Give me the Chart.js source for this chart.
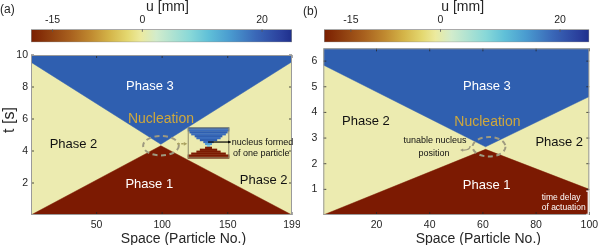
<!DOCTYPE html>
<html>
<head>
<meta charset="utf-8">
<title>u [mm] phase maps</title>
<script src="https://cdn.jsdelivr.net/npm/chart.js@4.4.1/dist/chart.umd.min.js"></script>
<style>
  body { margin: 0; background: #fff; }
  #fig { position: relative; width: 598px; height: 245px; overflow: hidden; }
  #fig canvas { position: absolute; top: 0; }
</style>
</head>
<body>
<div id="fig">
  <canvas id="mapA" width="300" height="245" style="left:0"></canvas>
  <canvas id="mapB" width="298" height="245" style="left:300px"></canvas>
  <canvas id="barA" width="300" height="45" style="left:0"></canvas>
  <canvas id="barB" width="298" height="45" style="left:300px"></canvas>
</div>
<script>
const FONT = '"Liberation Sans", Arial, Helvetica, sans-serif';
const RED = '#7c1a02';
const YELLOW = '#ecebb0';
const BLUE = '#2f5fb0';
const GOLD = '#cfa83c';
const INK = '#262626';
const DASH = '#9e9a80';

// panel (a): 199 particles, 10 s
const spaceA = [0, 99, 199];
const phase3EdgeA = [9.55, 4.42, 9.58];   // lower edge of phase 3 (blue)
const phase1EdgeA = [0, 4.33, 0];         // upper edge of phase 1 (red)
const xTicksA = [50, 100, 150, 199];
const yTicksA = [2, 4, 6, 8, 10];

// panel (b): 100 particles, 6.5 s
const spaceB = [0, 61, 100];
const phase3EdgeB = [5.85, 2.66, 4.62];
const phase1EdgeB = [0, 2.56, 1.0];
const xTicksB = [20, 40, 60, 80, 100];
const yTicksB = [1, 2, 3, 4, 5, 6];

// colorbars
const cbTicks = [-15, 0, 20];
const cbRangeA = [-18.6, 25.0];
const cbRangeB = [-19.5, 24.9];

// zoomed inset of (a): half widths in cells (of 24) for each of 16 rows
const insetBlue = [12, 12, 11, 10, 8, 7, 5, 3, 0, 0, 0, 0, 0, 0, 0, 0];
const insetCyan = [0, 0, 0, 0, 0, 0, 0, 0, 2, 1, 0, 0, 0, 0, 0, 0];
const insetRed  = [0, 0, 0, 0, 0, 0, 0, 0, 0, 0, 2, 5, 7, 10, 12, 12];

const cbStops = [
  [0, '#7a1e00'], [0.076, '#904010'], [0.15, '#a8601e'], [0.23, '#c08a30'],
  [0.30, '#d4b448'], [0.37, '#e4d870'], [0.42, '#ecea9e'], [0.48, '#d2eccc'],
  [0.61, '#88d8d8'], [0.68, '#60c0d8'], [0.76, '#4a9cd0'], [0.86, '#3a68b8'],
  [0.96, '#2a3f9c'], [1, '#1e2f8c']
];

function edge(xs, ys) {
  return xs.map((x, i) => ({ x: x, y: ys[i] }));
}

function text(ctx, s, x, y, size, color, align) {
  ctx.save();
  ctx.font = size + 'px ' + FONT;
  ctx.fillStyle = color;
  ctx.textAlign = align || 'center';
  ctx.textBaseline = 'middle';
  ctx.fillText(s, x, y);
  ctx.restore();
}

function arrowHead(ctx, x, y, ang, len, color) {
  ctx.save();
  ctx.fillStyle = color;
  ctx.beginPath();
  ctx.moveTo(x, y);
  ctx.lineTo(x - len * Math.cos(ang - 0.5), y - len * Math.sin(ang - 0.5));
  ctx.lineTo(x - len * Math.cos(ang + 0.5), y - len * Math.sin(ang + 0.5));
  ctx.closePath();
  ctx.fill();
  ctx.restore();
}

function dashedEllipse(chart, cx, cy, rx, ry) {
  const sx = chart.scales.x, sy = chart.scales.y, ctx = chart.ctx;
  const px = sx.getPixelForValue(cx), py = sy.getPixelForValue(cy);
  const prx = Math.abs(sx.getPixelForValue(cx + rx) - px);
  const pry = Math.abs(sy.getPixelForValue(cy + ry) - py);
  ctx.save();
  ctx.strokeStyle = DASH;
  ctx.lineWidth = 2;
  ctx.setLineDash([5, 3.5]);
  ctx.beginPath();
  ctx.ellipse(px, py, prx, pry, 0, 0, Math.PI * 2);
  ctx.stroke();
  ctx.restore();
}

function drawInset(ctx, p0, p1) {
  const x0 = p0[0], y0 = p0[1], w = p1[0] - p0[0], h = p1[1] - p0[1];
  const cw = w / 24, rh = h / insetBlue.length, xc = x0 + w / 2;
  ctx.save();
  ctx.fillStyle = YELLOW;
  ctx.fillRect(x0, y0, w, h);
  insetBlue.forEach((n, r) => {
    if (!n) return;
    ctx.fillStyle = r % 2 ? '#3a6cbc' : BLUE;
    ctx.fillRect(xc - n * cw, y0 + r * rh, 2 * n * cw, rh + 0.3);
  });
  insetCyan.forEach((n, r) => {
    if (!n) return;
    ctx.fillStyle = r === 8 ? '#4f9ad4' : '#86d2e2';
    ctx.fillRect(xc - n * cw, y0 + r * rh, 2 * n * cw, rh + 0.3);
  });
  insetRed.forEach((n, r) => {
    if (!n) return;
    ctx.fillStyle = RED;
    ctx.fillRect(xc - n * cw, y0 + r * rh, 2 * n * cw, rh + 0.3);
  });
  ctx.strokeStyle = '#8d8a6a';
  ctx.lineWidth = 1;
  ctx.strokeRect(x0 + 0.5, y0 + 0.5, w - 1, h - 1);
  ctx.restore();
}

function mapFrame(xTicks, yTicks, annotate) {
  return {
    id: 'mapFrame',
    beforeDatasetsDraw(chart) {
      const a = chart.chartArea, ctx = chart.ctx;
      ctx.save();
      ctx.fillStyle = YELLOW;
      ctx.fillRect(a.left, a.top, a.width, a.height);
      ctx.restore();
    },
    afterDraw(chart) {
      const a = chart.chartArea, ctx = chart.ctx;
      const sx = chart.scales.x, sy = chart.scales.y;
      ctx.save();
      ctx.strokeStyle = INK;
      ctx.lineWidth = 0.8;
      ctx.beginPath();
      xTicks.forEach(v => {
        const p = sx.getPixelForValue(v);
        ctx.moveTo(p, a.top); ctx.lineTo(p, a.top + 3);
        ctx.moveTo(p, a.bottom); ctx.lineTo(p, a.bottom - 3);
      });
      yTicks.forEach(v => {
        const p = sy.getPixelForValue(v);
        ctx.moveTo(a.left, p); ctx.lineTo(a.left + 3, p);
        ctx.moveTo(a.right, p); ctx.lineTo(a.right - 3, p);
      });
      ctx.stroke();
      ctx.strokeStyle = '#9a9a9a';
      ctx.lineWidth = 1;
      ctx.strokeRect(a.left + 0.5, a.top + 0.5, a.width - 1, a.height - 1);
      ctx.restore();
      annotate(chart, ctx, (vx, vy) => [sx.getPixelForValue(vx), sy.getPixelForValue(vy)]);
    }
  };
}

function phaseMap(id, xs, top, bottom, xMax, yMax, xTicks, yTicks, box, annotate) {
  const tickFont = { family: FONT, size: 10.5 };
  return new Chart(document.getElementById(id), {
    type: 'scatter',
    data: {
      datasets: [
        { label: 'Phase 3', data: edge(xs, top), showLine: true, fill: 'end',
          backgroundColor: BLUE, borderColor: BLUE, borderWidth: 0.5, pointRadius: 0 },
        { label: 'Phase 1', data: edge(xs, bottom), showLine: true, fill: 'start',
          backgroundColor: RED, borderColor: RED, borderWidth: 0.5, pointRadius: 0 }
      ]
    },
    options: {
      responsive: false,
      animation: false,
      events: [],
      layout: { padding: { left: 0, right: box.right, top: box.top, bottom: 0 } },
      plugins: { legend: { display: false }, tooltip: { enabled: false } },
      scales: {
        x: {
          type: 'linear', min: 0, max: xMax,
          afterBuildTicks: s => { s.ticks = xTicks.map(v => ({ value: v })); },
          afterFit: s => { s.height = 30; s.paddingLeft = 0; s.paddingRight = 0; },
          grid: { display: false, drawTicks: false },
          border: { display: false },
          ticks: { font: tickFont, color: INK, padding: 4, maxRotation: 0, autoSkip: false }
        },
        y: {
          type: 'linear', min: 0, max: yMax,
          afterBuildTicks: s => { s.ticks = yTicks.map(v => ({ value: v })); },
          afterFit: s => { s.width = box.left; s.paddingTop = 0; s.paddingBottom = 0; },
          grid: { display: false, drawTicks: false },
          border: { display: false },
          ticks: { font: tickFont, color: INK, padding: box.tickPad, autoSkip: false }
        }
      }
    },
    plugins: [mapFrame(xTicks, yTicks, annotate)]
  });
}

function annotateA(chart, ctx, at) {
  let p;
  p = at(90.7, 8.02); text(ctx, 'Phase 3', p[0], p[1], 13, '#fff');
  p = at(99.1, 6.0); text(ctx, 'Nucleation', p[0], p[1], 14, GOLD);
  p = at(32.4, 4.38); text(ctx, 'Phase 2', p[0], p[1], 13, '#111');
  p = at(90.2, 1.92); text(ctx, 'Phase 1', p[0], p[1], 13, '#fff');
  p = at(177.4, 2.19); text(ctx, 'Phase 2', p[0], p[1], 13, '#111');
  dashedEllipse(chart, 99.1, 4.33, 13.6, 0.61);

  // pointer from the nucleus to the zoomed inset
  const s = at(111.5, 4.45), e = at(119.2, 4.45);
  ctx.save();
  ctx.strokeStyle = '#aaa260';
  ctx.lineWidth = 1.4;
  ctx.setLineDash([2.5, 1.5]);
  ctx.beginPath(); ctx.moveTo(s[0], s[1]); ctx.lineTo(e[0] - 2, e[1]); ctx.stroke();
  ctx.restore();
  arrowHead(ctx, e[0], e[1], 0, 4, '#aaa260');

  drawInset(ctx, at(119.5, 5.48), at(151.2, 3.54));

  const l0 = at(135, 4.56), l1 = at(152.3, 4.56);
  ctx.save();
  ctx.strokeStyle = '#000';
  ctx.lineWidth = 1.2;
  ctx.beginPath(); ctx.moveTo(l0[0], l0[1]); ctx.lineTo(l1[0], l1[1]); ctx.stroke();
  ctx.restore();
  arrowHead(ctx, l1[0], l1[1], 0, 3, '#000');
  p = at(153, 4.54); text(ctx, 'nucleus formed', p[0], p[1], 9, '#111', 'left');
  p = at(154, 3.86); text(ctx, 'of one particle', p[0], p[1], 9, '#111', 'left');

  const a = chart.chartArea;
  text(ctx, 'Space (Particle No.)', (a.left + a.right) / 2 + 22, a.bottom + 24, 14, INK);
  ctx.save();
  ctx.translate(10, a.top + 65);
  ctx.rotate(-Math.PI / 2);
  text(ctx, 't [s]', 0, 0, 16, INK);
  ctx.restore();
  text(ctx, '(a)', 0, 10, 12, INK, 'left');
}

function annotateB(chart, ctx, at) {
  let p;
  p = at(61.5, 5.0); text(ctx, 'Phase 3', p[0], p[1], 13, '#fff');
  p = at(61.7, 3.64); text(ctx, 'Nucleation', p[0], p[1], 14, GOLD);
  p = at(16.0, 3.66); text(ctx, 'Phase 2', p[0], p[1], 13, '#111');
  p = at(88.7, 2.83); text(ctx, 'Phase 2', p[0], p[1], 13, '#111');
  p = at(61.4, 1.17); text(ctx, 'Phase 1', p[0], p[1], 13, '#fff');
  p = at(42.0, 2.9); text(ctx, 'tunable nucleus', p[0], p[1], 9, '#111');
  p = at(41.6, 2.41); text(ctx, 'position', p[0], p[1], 9, '#111');
  dashedEllipse(chart, 62.3, 2.66, 6.2, 0.38);

  // small hooked arrow pointing left
  const c = at(53.3, 2.53);
  ctx.save();
  ctx.strokeStyle = DASH;
  ctx.lineWidth = 1.3;
  ctx.beginPath();
  ctx.moveTo(c[0] + 5, c[1] - 4);
  ctx.quadraticCurveTo(c[0] + 5, c[1], c[0] - 1, c[1]);
  ctx.lineTo(c[0] - 3, c[1]);
  ctx.stroke();
  ctx.restore();
  arrowHead(ctx, c[0] - 5, c[1], Math.PI, 3.5, DASH);

  p = at(82.1, 0.67); text(ctx, 'time delay', p[0], p[1], 8.5, '#fff', 'left');
  p = at(82.1, 0.28); text(ctx, 'of actuation', p[0], p[1], 8.5, '#fff', 'left');
  const b0 = at(99.6, 0.03), b1 = at(99.6, 0.93);
  ctx.save();
  ctx.strokeStyle = '#fff';
  ctx.lineWidth = 1.2;
  ctx.beginPath();
  ctx.moveTo(b0[0] - 2, b0[1]); ctx.lineTo(b0[0], b0[1]);
  ctx.lineTo(b1[0], b1[1]); ctx.lineTo(b1[0] - 2, b1[1]);
  ctx.stroke();
  ctx.restore();

  const a = chart.chartArea;
  text(ctx, 'Space (Particle No.)', (a.left + a.right) / 2 + 22, a.bottom + 24, 14, INK);
  text(ctx, '(b)', 3, 12, 12, INK, 'left');
}

function cbFill(c) {
  const a = c.chart.chartArea;
  if (!a) return BLUE;
  const g = c.chart.ctx.createLinearGradient(a.left, 0, a.right, 0);
  cbStops.forEach(s => g.addColorStop(s[0], s[1]));
  return g;
}

const cbMarks = {
  id: 'cbMarks',
  afterDraw(chart) {
    const a = chart.chartArea, ctx = chart.ctx, sx = chart.scales.x;
    ctx.save();
    ctx.strokeStyle = '#555';
    ctx.lineWidth = 0.8;
    ctx.beginPath();
    cbTicks.forEach(v => {
      const p = sx.getPixelForValue(v);
      ctx.moveTo(p, a.top); ctx.lineTo(p, a.top + 2.5);
    });
    ctx.stroke();
    ctx.restore();
    text(ctx, 'u [mm]', (a.left + a.right) / 2 + 6, 7, 14, INK);
  }
};

function colorbar(id, range, left, right) {
  return new Chart(document.getElementById(id), {
    type: 'bar',
    data: {
      labels: ['u'],
      datasets: [{
        data: [range], backgroundColor: cbFill, borderColor: '#8c8c8c',
        borderWidth: 1, borderSkipped: false, barPercentage: 1, categoryPercentage: 1
      }]
    },
    options: {
      indexAxis: 'y',
      responsive: false,
      animation: false,
      events: [],
      layout: { padding: { left: left, right: right, top: 0, bottom: 2.7 } },
      plugins: { legend: { display: false }, tooltip: { enabled: false } },
      scales: {
        x: {
          type: 'linear', position: 'top', min: range[0], max: range[1],
          afterBuildTicks: s => { s.ticks = cbTicks.map(v => ({ value: v })); },
          afterFit: s => { s.height = 29.3; s.paddingLeft = 0; s.paddingRight = 0; },
          grid: { display: false, drawTicks: false },
          border: { display: false },
          ticks: { font: { family: FONT, size: 10.5 }, color: INK, padding: 3, maxRotation: 0 }
        },
        y: { display: false }
      }
    },
    plugins: [cbMarks]
  });
}

phaseMap('mapA', spaceA, phase3EdgeA, phase1EdgeA, 199, 10, xTicksA, yTicksA,
  { left: 31, right: 8, top: 55, tickPad: 3 }, annotateA);
phaseMap('mapB', spaceB, phase3EdgeB, phase1EdgeB, 100, 6.5, xTicksB, yTicksB,
  { left: 23.3, right: 8.7, top: 48.3, tickPad: 6 }, annotateB);
colorbar('barA', cbRangeA, 31, 8);
colorbar('barB', cbRangeB, 24, 8.7);
</script>
</body>
</html>
